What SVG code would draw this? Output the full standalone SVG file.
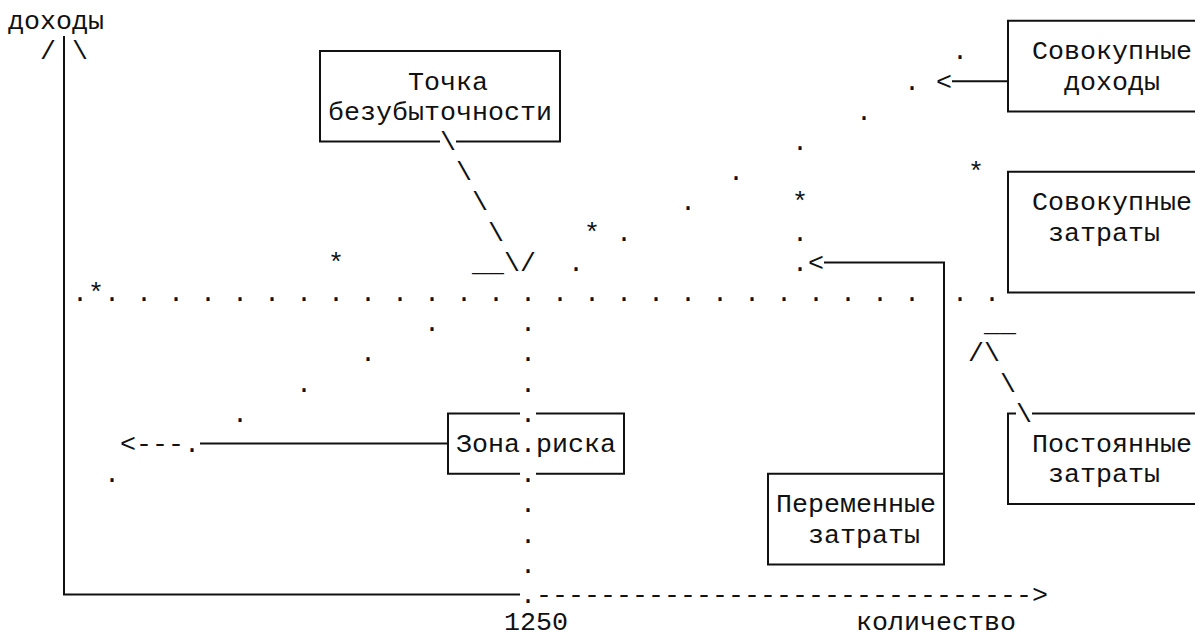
<svg xmlns="http://www.w3.org/2000/svg" width="1195" height="634" viewBox="0 0 1195 634">
<style>
.t { font-family: "Liberation Mono", "Courier New", monospace; font-size: 26.667px; fill: #111; }
.ln { stroke: #111; stroke-width: 2; fill: none; }
</style>
<rect width="1195" height="634" fill="#fff"/>

<g id="axes">
  <text class="t" x="8" y="29.1">доходы</text>
  <text class="t" x="40" y="59.3">/</text>
  <text class="t" x="72" y="59.3">\</text>
  <path class="ln" d="M64 35.9 V594.6 H520"/>
  <text class="t" x="520" y="602.9">.</text>
  <text class="t" x="536" y="602.9">-------------------------------&gt;</text>
  <text class="t" x="504" y="629.5">1250</text>
  <text class="t" x="856" y="629.5">количество</text>
</g>

<g id="node-tochka">
  <path class="ln" d="M440 141.6 H320 V51 H560 V141.6 H456"/>
  <text class="t" x="408" y="89.5">Точка</text>
  <text class="t" x="328" y="119.7">безубыточности</text>
</g>

<g id="node-sovokupnye-dohody">
  <path class="ln" d="M1210 20.8 H1008 V111.4 H1210"/>
  <text class="t" x="1032" y="59.3">Совокупные</text>
  <text class="t" x="1064" y="89.5">доходы</text>
</g>

<g id="node-sovokupnye-zatraty">
  <path class="ln" d="M1210 171.8 H1008 V292.6 H1210"/>
  <text class="t" x="1032" y="210.3">Совокупные</text>
  <text class="t" x="1048" y="240.5">затраты</text>
</g>

<g id="node-postoyannye-zatraty">
  <path class="ln" d="M1016 413.4 H1008 V504 H1210"/>
  <path class="ln" d="M1032 413.4 H1210"/>
  <text class="t" x="1032" y="451.9">Постоянные</text>
  <text class="t" x="1048" y="482.1">затраты</text>
</g>

<g id="node-peremennye-zatraty">
  <path class="ln" d="M768 473.8 H944 V564.4 H768 Z"/>
  <text class="t" x="776" y="512.3">Переменные</text>
  <text class="t" x="808" y="542.5">затраты</text>
</g>

<g id="node-zona-riska">
  <path class="ln" d="M520 413.4 H448 V473.8 H520 M536 473.8 H624 V413.4 H536"/>
  <text class="t" x="456" y="451.9">Зона.риска</text>
</g>

<g id="connectors">
  <text class="t" x="936" y="89.5">&lt;</text>
  <path class="ln" d="M952 81.2 H1008"/>
  <text class="t" x="808" y="270.7">&lt;</text>
  <path class="ln" d="M824 262.4 H944 V473.8"/>
  <text class="t" x="120" y="451.9">&lt;---.</text>
  <path class="ln" d="M200 443.6 H448"/>
  <text class="t" x="440" y="149.9">\</text>
  <text class="t" x="456" y="180.1">\</text>
  <text class="t" x="472" y="210.3">\</text>
  <text class="t" x="488" y="240.5">\</text>
  <text class="t" x="472" y="270.7">__\/</text>
  <text class="t" x="984" y="331.1">__</text>
  <text class="t" x="968" y="361.3">/\</text>
  <text class="t" x="1000" y="391.5">\</text>
  <text class="t" x="1016" y="421.7">\</text>
</g>

<g id="series">
  <text class="t" x="72" y="300.9">.*</text>
  <text class="t" x="104 136 168 200 232 264 296 328 360 392 424 456 488 520 552 584 616 648 680 712 744 776 808 840 872 904" y="300.9">..........................</text>
  <text class="t" x="952 984" y="300.9">..</text>
  <text class="t" x="520 520 520 520 520 520 520 520" y="331.1 361.3 391.5 421.7 482.1 512.3 542.5 572.7">........</text>
  <text class="t" x="952" y="59.3">.</text>
  <text class="t" x="904" y="89.5">.</text>
  <text class="t" x="856" y="119.7">.</text>
  <text class="t" x="792" y="149.9">.</text>
  <text class="t" x="728" y="180.1">.</text>
  <text class="t" x="680" y="210.3">.</text>
  <text class="t" x="616" y="240.5">.</text>
  <text class="t" x="568" y="270.7">.</text>
  <text class="t" x="424" y="331.1">.</text>
  <text class="t" x="360" y="361.3">.</text>
  <text class="t" x="296" y="391.5">.</text>
  <text class="t" x="232" y="421.7">.</text>
  <text class="t" x="104" y="482.1">.</text>
  <text class="t" x="792" y="240.5">.</text>
  <text class="t" x="792" y="270.7">.</text>
  <text class="t" x="328" y="270.7">*</text>
  <text class="t" x="584" y="240.5">*</text>
  <text class="t" x="792" y="210.3">*</text>
  <text class="t" x="968" y="180.1">*</text>
</g>
</svg>
